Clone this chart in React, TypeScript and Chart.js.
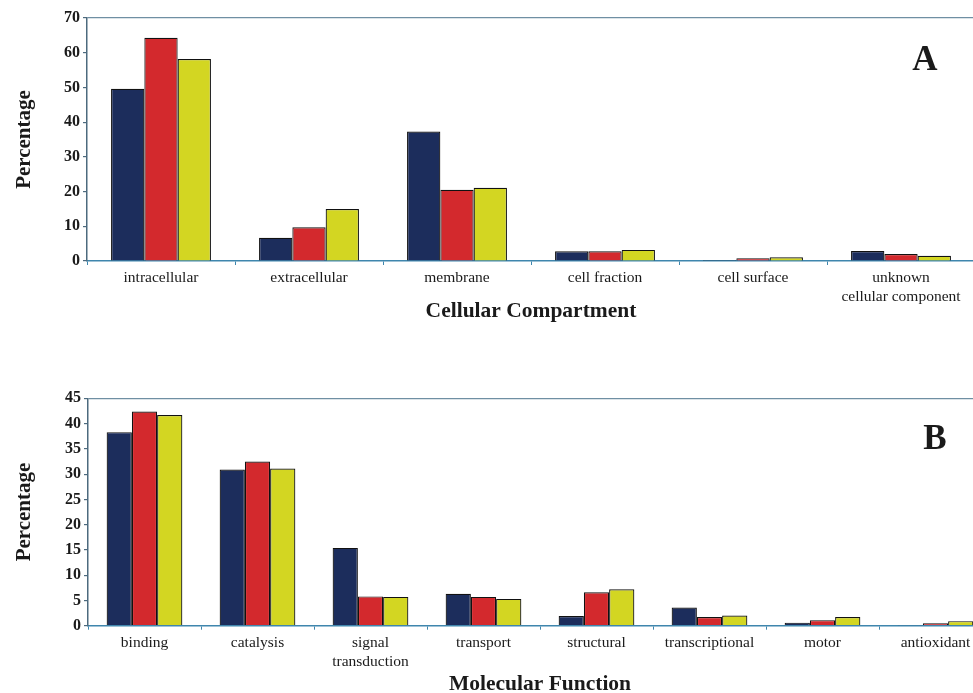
import React, { useEffect, useRef } from 'react';
import { Chart, registerables } from 'chart.js';

Chart.register(...registerables);

// ---------- Data ----------
const compartmentLabels: (string | string[])[] = [
  'intracellular',
  'extracellular',
  'membrane',
  'cell fraction',
  'cell surface',
  ['unknown', 'cellular component'],
];
const compartmentSeries1 = [49.6, 6.7, 37.3, 2.8, 0.3, 2.9];
const compartmentSeries2 = [64.3, 9.7, 20.5, 2.8, 0.8, 2.0];
const compartmentSeries3 = [58.2, 15.0, 21.1, 3.2, 1.1, 1.5];
const compartmentYMax = 70;
const compartmentYStep = 10;

const functionLabels: (string | string[])[] = [
  'binding',
  'catalysis',
  ['signal', 'transduction'],
  'transport',
  'structural',
  'transcriptional',
  'motor',
  'antioxidant',
];
const functionSeries1 = [38.3, 30.9, 15.4, 6.3, 1.9, 3.6, 0.6, 0.1];
const functionSeries2 = [42.4, 32.5, 5.8, 5.7, 6.6, 1.7, 1.1, 0.5];
const functionSeries3 = [41.7, 31.1, 5.7, 5.3, 7.2, 2.0, 1.7, 0.9];
const functionYMax = 45;
const functionYStep = 5;

const seriesNames = ['Series 1', 'Series 2', 'Series 3'];

// ---------- Styles ----------
const FONT = "'Liberation Serif', 'Times New Roman', serif";
const COLORS = ['#1c2d5c', '#d3292d', '#d3d622'];
const BAR_BORDER = '#111111';
const X_AXIS_COLOR = '#3f86ad';
const Y_AXIS_COLOR = '#4d6a7e';
const TOP_LINE_COLOR = '#6f8fa3';
const TEXT_COLOR = '#1a1a1a';

const panelLetterPlugin = {
  id: 'panelLetter',
  afterDraw(chart: any, _args: any, opts: any) {
    if (!opts || !opts.text) return;
    const { ctx, chartArea } = chart;
    ctx.save();
    ctx.font = `bold ${opts.size}px ${FONT}`;
    ctx.fillStyle = TEXT_COLOR;
    ctx.textAlign = 'center';
    ctx.textBaseline = 'middle';
    ctx.fillText(opts.text, chartArea.right + opts.dx, chartArea.top + opts.dy);
    ctx.restore();
  },
};

type PanelProps = {
  labels: (string | string[])[];
  series: number[][];
  yMax: number;
  yStep: number;
  xTitle: string;
  letter: string;
  letterDx: number;
  letterDy: number;
  top: number;
  width: number;
  height: number;
  yAxisWidth: number;
  padTop: number;
  xAxisHeight: number;
  xTitlePadBottom: number;
  catPct: number;
};

function BarPanel(p: PanelProps) {
  const ref = useRef<HTMLCanvasElement | null>(null);
  useEffect(() => {
    if (!ref.current) return;
    const chart = new Chart(ref.current, {
      type: 'bar',
      data: {
        labels: p.labels as any,
        datasets: p.series.map((vals, i) => ({
          label: seriesNames[i],
          data: vals,
          backgroundColor: COLORS[i],
          borderColor: BAR_BORDER,
          borderWidth: 1.2,
          categoryPercentage: p.catPct,
          barPercentage: 1.0,
        })),
      },
      options: {
        responsive: false,
        animation: false,
        devicePixelRatio: 1,
        layout: { padding: { top: p.padTop, left: 0, right: 0, bottom: 0 } },
        plugins: {
          legend: { display: false },
          tooltip: { enabled: false },
          panelLetter: { text: p.letter, size: 35, dx: p.letterDx, dy: p.letterDy },
        } as any,
        scales: {
          x: {
            grid: {
              display: true,
              drawOnChartArea: false,
              drawTicks: true,
              tickLength: 4,
              tickColor: X_AXIS_COLOR,
              offset: true,
            },
            border: { display: true, color: X_AXIS_COLOR, width: 1.5 },
            ticks: {
              color: TEXT_COLOR,
              font: { family: FONT, size: 15.5, lineHeight: 1.2 },
              padding: 4,
              maxRotation: 0,
              autoSkip: false,
            },
            title: {
              display: true,
              text: p.xTitle,
              color: TEXT_COLOR,
              font: { family: FONT, size: 21.5, weight: 'bold' },
              padding: { top: 0, bottom: p.xTitlePadBottom },
            },
            afterFit: (s: any) => {
              s.height = p.xAxisHeight;
            },
          },
          y: {
            min: 0,
            max: p.yMax,
            ticks: {
              stepSize: p.yStep,
              color: TEXT_COLOR,
              font: { family: FONT, size: 16, weight: 'bold' },
              padding: 3,
            },
            grid: {
              display: true,
              drawOnChartArea: true,
              drawTicks: true,
              tickLength: 4,
              tickColor: Y_AXIS_COLOR,
              color: (c: any) =>
                c.tick && c.tick.value === p.yMax ? TOP_LINE_COLOR : 'rgba(0,0,0,0)',
              lineWidth: 1.2,
            },
            border: { display: true, color: Y_AXIS_COLOR, width: 1.5 },
            title: {
              display: true,
              text: 'Percentage',
              color: TEXT_COLOR,
              font: { family: FONT, size: 21, weight: 'bold' },
              padding: { top: 12, bottom: 0 },
            },
            afterFit: (s: any) => {
              s.width = p.yAxisWidth;
            },
          },
        },
      },
      plugins: [panelLetterPlugin as any],
    });
    return () => chart.destroy();
  }, []);
  return (
    <div style={{ position: 'absolute', left: 0, top: p.top, width: p.width, height: p.height }}>
      <canvas ref={ref} width={p.width} height={p.height} style={{ display: 'block' }} />
    </div>
  );
}

export default function App() {
  return (
    <div
      style={{
        position: 'fixed',
        left: 0,
        top: 0,
        width: 973,
        height: 693,
        overflow: 'hidden',
        background: '#ffffff',
      }}
    >
      <BarPanel
        labels={compartmentLabels}
        series={[compartmentSeries1, compartmentSeries2, compartmentSeries3]}
        yMax={compartmentYMax}
        yStep={compartmentYStep}
        xTitle="Cellular Compartment"
        letter="A"
        letterDx={-50}
        letterDy={43}
        top={0}
        width={975}
        height={340}
        yAxisWidth={87}
        padTop={18}
        xAxisHeight={79}
        xTitlePadBottom={16}
        catPct={0.675}
      />
      <BarPanel
        labels={functionLabels}
        series={[functionSeries1, functionSeries2, functionSeries3]}
        yMax={functionYMax}
        yStep={functionYStep}
        xTitle="Molecular Function"
        letter="B"
        letterDx={-57}
        letterDy={42}
        top={340}
        width={992}
        height={370}
        yAxisWidth={88}
        padTop={58.3}
        xAxisHeight={84.3}
        xTitlePadBottom={13}
        catPct={0.67}
      />
    </div>
  );
}
